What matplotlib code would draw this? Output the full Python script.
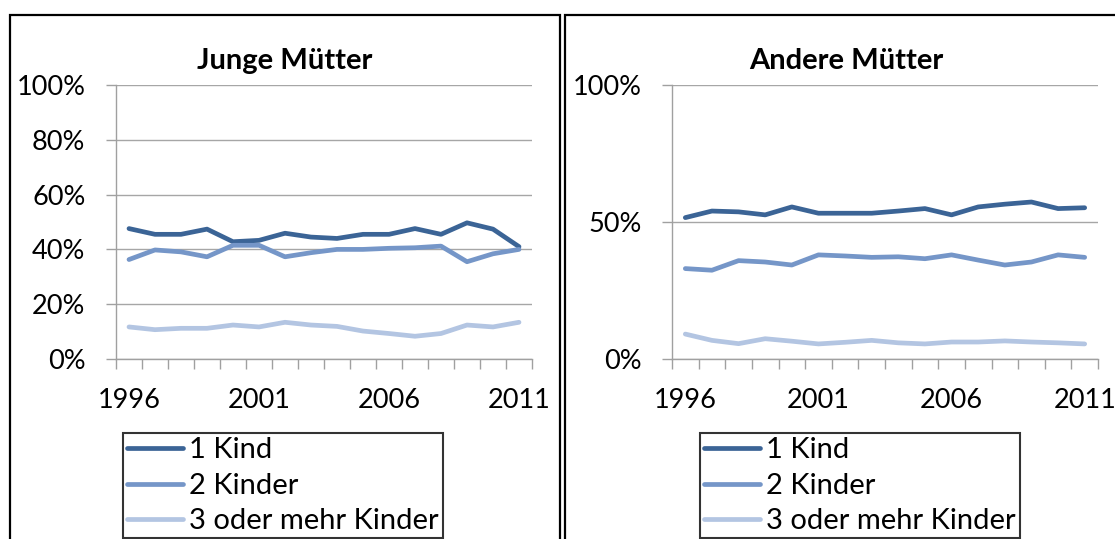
import numpy as np
from matplotlib import pyplot as plt
from matplotlib.patches import Rectangle

plt.rcParams['font.family'] = ['Lato', 'DejaVu Sans']

jahre = list(range(1996, 2012))
jahr_labels = ['1996', '2001', '2006', '2011']
serien = ['1 Kind', '2 Kinder', '3 oder mehr Kinder']
farben = ['#3b6496', '#7596c8', '#b3c5e2']

# Anteile in Prozent
junge_1 = [47.6, 45.5, 45.5, 47.4, 42.8, 43.3, 45.9, 44.5, 44.0, 45.5, 45.5, 47.6, 45.5, 49.7, 47.4, 41.0]
junge_2 = [36.3, 39.8, 39.1, 37.3, 41.5, 41.5, 37.3, 38.8, 40.0, 40.0, 40.4, 40.6, 41.2, 35.5, 38.4, 40.0]
junge_3 = [11.7, 10.7, 11.2, 11.2, 12.4, 11.7, 13.4, 12.4, 11.9, 10.2, 9.3, 8.3, 9.3, 12.4, 11.7, 13.4]

andere_1 = [51.6, 54.0, 53.7, 52.6, 55.5, 53.2, 53.2, 53.2, 54.0, 54.9, 52.6, 55.5, 56.5, 57.3, 54.9, 55.2]
andere_2 = [33.0, 32.4, 35.9, 35.4, 34.3, 38.0, 37.6, 37.1, 37.3, 36.6, 38.0, 36.1, 34.3, 35.4, 38.0, 37.1]
andere_3 = [9.1, 6.8, 5.6, 7.4, 6.5, 5.5, 6.1, 6.8, 5.9, 5.5, 6.2, 6.2, 6.6, 6.2, 5.9, 5.5]

W, H = 1115, 539
fig = plt.figure(figsize=(W / 100, H / 100), dpi=100)


def fx(px):
    return px / W


def fy(py):
    return 1 - py / H


def zeichne(ax_left, ax_right, titel, titel_x, daten, yticks, leg_x):
    ax = fig.add_axes([fx(ax_left), fy(359), fx(ax_right - ax_left), fy(85) - fy(359)])
    x = np.arange(len(jahre)) + 0.5
    lines = []
    for werte, farbe, name in zip(daten, farben, serien):
        l, = ax.plot(x, werte, color=farbe, linewidth=3.4, label=name,
                     solid_capstyle='round', solid_joinstyle='round')
        lines.append(l)
    ax.set_xlim(0, len(jahre))
    ax.set_ylim(0, 100)
    ax.set_yticks(yticks)
    ax.set_yticklabels([f'{v}%' for v in yticks], fontsize=19.5)
    ax.set_xticks(np.arange(len(jahre) + 1))
    ax.set_xticklabels([])
    ax.set_xticks([0.5, 5.5, 10.5, 15.5], minor=True)
    ax.set_xticklabels(jahr_labels, minor=True, fontsize=19.5)
    ax.tick_params(axis='x', which='major', length=7, color='#a0a0a0', width=1)
    ax.tick_params(axis='x', which='minor', length=0, pad=21)
    ax.tick_params(axis='y', length=7, color='#a0a0a0', width=1, pad=15)
    ax.grid(axis='y', color='#a6a6a6', linewidth=1)
    ax.set_axisbelow(True)
    for s in ['top', 'right']:
        ax.spines[s].set_visible(False)
    for s in ['left', 'bottom']:
        ax.spines[s].set_color('#a0a0a0')
        ax.spines[s].set_linewidth(1)
    fig.text(fx(titel_x), fy(61), titel, fontsize=21, fontweight='bold',
             ha='center', va='center')
    leg = fig.legend(handles=lines, loc='upper left', bbox_to_anchor=(fx(leg_x), fy(433)),
                     bbox_transform=fig.transFigure, fontsize=21, frameon=True,
                     fancybox=False, edgecolor='black', borderaxespad=0,
                     borderpad=0.15, handlelength=1.9, handletextpad=0.2,
                     labelspacing=0.32)
    leg.get_frame().set_linewidth(1.5)
    return ax


# Rahmen der beiden Diagramme
fig.patches.append(Rectangle((fx(10), fy(600)), fx(550), fy(15) - fy(600),
                             transform=fig.transFigure, fill=False,
                             edgecolor='black', linewidth=1.6))
fig.patches.append(Rectangle((fx(565), fy(600)), fx(560), fy(15) - fy(600),
                             transform=fig.transFigure, fill=False,
                             edgecolor='black', linewidth=1.6))

zeichne(116, 532, 'Junge Mütter', 285, [junge_1, junge_2, junge_3],
        [0, 20, 40, 60, 80, 100], 123)
zeichne(672, 1098, 'Andere Mütter', 846, [andere_1, andere_2, andere_3],
        [0, 50, 100], 700)

plt.savefig('out.png', dpi=100)
